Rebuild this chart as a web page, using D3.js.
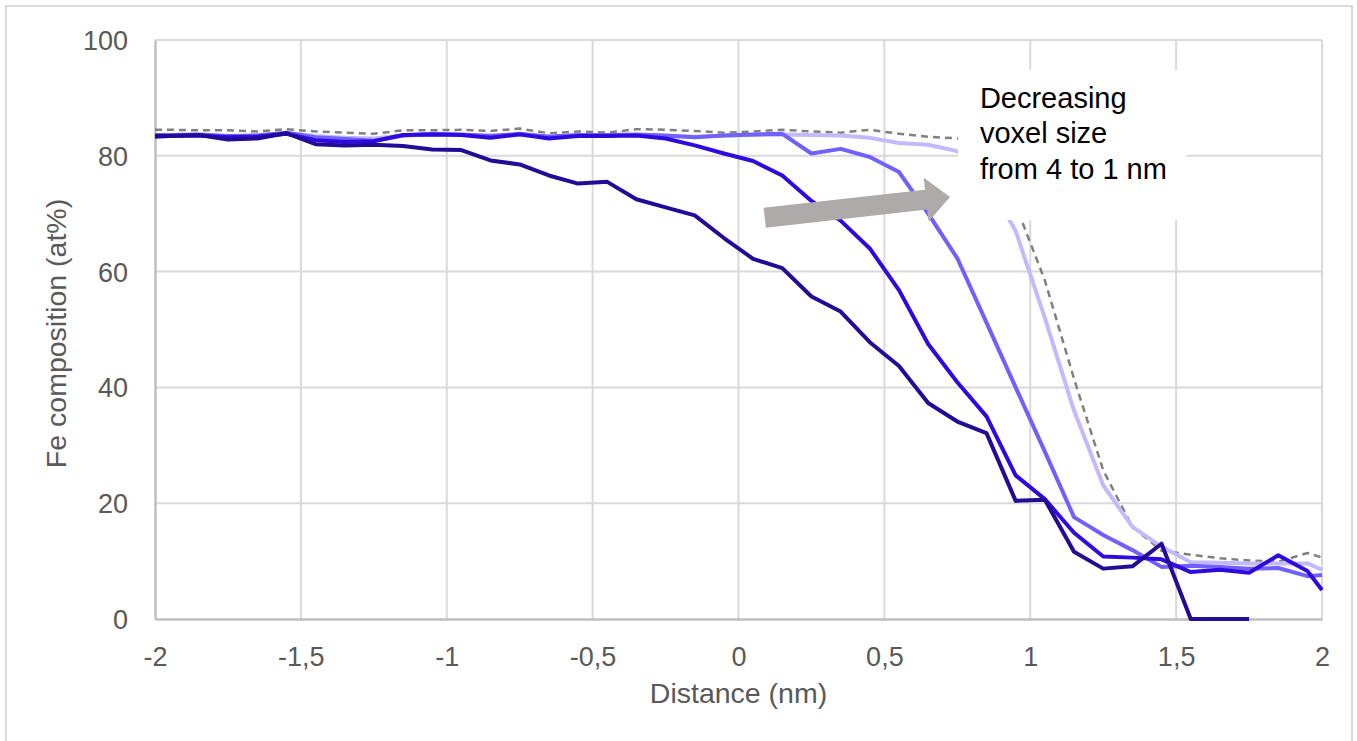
<!DOCTYPE html>
<html>
<head>
<meta charset="utf-8">
<script src="https://cdn.jsdelivr.net/npm/d3@7"></script>
<style>
  body { margin: 0; background: #fff; }
  text { font-family: "Liberation Sans", Arial, sans-serif; }
</style>
</head>
<body>
<div id="chart"></div>
<script>
// distance (nm) of each profile point
var distance = [-2, -1.95, -1.85, -1.75, -1.65, -1.55, -1.45, -1.35, -1.25, -1.15, -1.05,
  -0.95, -0.85, -0.75, -0.65, -0.55, -0.45, -0.35, -0.25, -0.15, -0.05,
  0.05, 0.15, 0.25, 0.35, 0.45, 0.55, 0.65, 0.75, 0.85, 0.95,
  1.05, 1.15, 1.25, 1.35, 1.45, 1.55, 1.65, 1.75, 1.85, 1.95, 2];

// Fe composition (at%), one array per voxel size
var voxel4 = [83.4, 83.4, 83.6, 82.8, 83.0, 83.9, 82.0, 81.8, 81.9, 81.7, 81.1,
  81.0, 79.2, 78.5, 76.6, 75.2, 75.5, 72.5, 71.1, 69.7, 65.8,
  62.2, 60.6, 55.7, 53.1, 47.8, 43.7, 37.3, 34.1, 32.1, 20.4,
  20.6, 11.6, 8.7, 9.1, 13.0, 0, 0, 0, null, null, null];

var voxel3 = [83.3, 83.4, 83.5, 83.2, 83.3, 83.8, 82.7, 82.4, 82.5, 83.6, 83.7,
  83.6, 83.1, 83.7, 83.0, 83.4, 83.4, 83.5, 83.0, 81.8, 80.4,
  79.1, 76.6, 72.2, 68.8, 64.0, 56.8, 47.5, 40.9, 35.0, 24.8,
  20.7, 14.9, 10.8, 10.6, 10.3, 8.1, 8.5, 8.0, 11.0, 8.3, 5.0];

var voxel2 = [83.6, 83.6, 83.7, 83.4, 83.5, 84.0, 83.2, 82.9, 82.6, 83.5, 83.8,
  83.7, 83.4, 83.8, 83.3, 83.6, 83.6, 83.7, 83.5, 83.2, 83.5,
  83.7, 83.8, 80.4, 81.2, 79.8, 77.2, 70.0, 62.3, 51.2, 40.0,
  28.9, 17.6, 14.5, 11.9, 9.0, 9.2, 9.0, 8.7, 8.8, 7.4, 7.6];

var voxel1 = [83.5, 83.5, 83.6, 83.3, 83.5, 83.9, 83.4, 83.1, 83.0, 83.5, 83.7,
  83.6, 83.5, 83.6, 83.4, 83.5, 83.6, 83.6, 83.4, 83.3, 83.5,
  83.6, 83.7, 83.6, 83.5, 83.1, 82.2, 81.9, 80.8, 76.0, 67.0,
  52.0, 36.0, 23.1, 15.9, 12.5, 9.8, 9.7, 9.6, 9.6, 9.6, 8.5];

var reference = [84.5, 84.5, 84.4, 84.4, 84.2, 84.6, 84.2, 84.0, 83.8, 84.4, 84.4,
  84.5, 84.3, 84.7, 83.9, 84.2, 84.0, 84.6, 84.5, 84.3, 84.0,
  84.2, 84.5, 84.2, 84.0, 84.5, 83.8, 83.3, 83.0, 82.7, 71.5,
  58.5, 41.5, 25.7, 15.9, 11.8, 11.1, 10.5, 10.1, 9.9, 11.4, 10.6];

var xTicks = [-2, -1.5, -1, -0.5, 0, 0.5, 1, 1.5, 2];
var yTicks = [0, 20, 40, 60, 80, 100];

// annotation, in data units
var arrowFrom = [0.09, 69.3],
  arrowTo = [0.725, 72.9];
var noteBox = { x0: 0.752, x1: 1.535, y0: 94.8, y1: 68.9 };
var noteLines = ["Decreasing", "voxel size", "from 4 to 1 nm"];

var width = 1357,
  height = 741,
  margin = { top: 40, right: 35, bottom: 122, left: 155 },
  innerW = width - margin.left - margin.right,
  innerH = height - margin.top - margin.bottom;

var svg = d3.select('#chart')
  .append('svg')
  .attr('width', width)
  .attr('height', height);

// outer chart border
svg.append('rect')
  .attr('x', 6).attr('y', 6)
  .attr('width', 1346).attr('height', 780)
  .attr('fill', 'none')
  .attr('stroke', '#d9d9d9')
  .attr('stroke-width', 2);

var g = svg.append('g')
  .attr('transform', 'translate(' + margin.left + ',' + margin.top + ')');

var x = d3.scaleLinear().domain([-2, 2]).range([0, innerW]);
var y = d3.scaleLinear().domain([0, 100]).range([innerH, 0]);

// gridlines
g.selectAll('.hgrid')
  .data(yTicks.filter(function(d) { return d > 0; }))
  .enter().append('line')
  .attr('x1', 0).attr('x2', innerW)
  .attr('y1', function(d) { return y(d); })
  .attr('y2', function(d) { return y(d); })
  .attr('stroke', '#d9d9d9')
  .attr('stroke-width', 2);

g.selectAll('.vgrid')
  .data(xTicks.filter(function(d) { return d > -2; }))
  .enter().append('line')
  .attr('y1', 0).attr('y2', innerH)
  .attr('x1', function(d) { return x(d); })
  .attr('x2', function(d) { return x(d); })
  .attr('stroke', '#d9d9d9')
  .attr('stroke-width', 2);

// axes
var xAxis = g.append('g')
  .attr('transform', 'translate(0,' + innerH + ')')
  .call(d3.axisBottom(x).tickValues(xTicks).tickSize(0).tickPadding(28)
    .tickFormat(function(d) { return String(d).replace('.', ','); }));

var yAxis = g.append('g')
  .call(d3.axisLeft(y).tickValues(yTicks).tickSize(0).tickPadding(27));

[xAxis, yAxis].forEach(function(a) {
  a.select('.domain').attr('stroke', '#bfbfbf').attr('stroke-width', 2.5);
  a.selectAll('text')
    .attr('fill', '#595959')
    .style('font-size', '27px')
    .style('font-family', '"Liberation Sans", Arial, sans-serif');
});
yAxis.selectAll('text').attr('dy', '0.35em');

// axis titles
svg.append('text')
  .attr('x', margin.left + x(0))
  .attr('y', 703)
  .attr('text-anchor', 'middle')
  .attr('fill', '#595959')
  .style('font-size', '28.5px')
  .text('Distance (nm)');

svg.append('text')
  .attr('transform', 'translate(66,' + (margin.top + innerH / 2 + 4) + ') rotate(-90)')
  .attr('text-anchor', 'middle')
  .attr('fill', '#595959')
  .style('font-size', '28.5px')
  .text('Fe composition (at%)');

// profile lines
var series = [
  { name: 'reference', values: reference, colour: '#808080', dash: '7,5', w: 2.5 },
  { name: '1 nm', values: voxel1, colour: '#c2baff', dash: null, w: 4 },
  { name: '2 nm', values: voxel2, colour: '#7060ff', dash: null, w: 4 },
  { name: '3 nm', values: voxel3, colour: '#2f0ae0', dash: null, w: 4 },
  { name: '4 nm', values: voxel4, colour: '#230b98', dash: null, w: 4 }
];

var line = d3.line()
  .defined(function(d) { return d[1] !== null; })
  .x(function(d) { return x(d[0]); })
  .y(function(d) { return y(d[1]); });

g.selectAll('.profile')
  .data(series)
  .enter().append('path')
  .attr('class', 'profile')
  .attr('fill', 'none')
  .attr('stroke', function(d) { return d.colour; })
  .attr('stroke-width', function(d) { return d.w; })
  .attr('stroke-dasharray', function(d) { return d.dash; })
  .attr('stroke-linejoin', 'round')
  .attr('d', function(d) {
    return line(distance.map(function(v, i) { return [v, d.values[i]]; }));
  });

// arrow
var ax0 = x(arrowFrom[0]), ay0 = y(arrowFrom[1]),
  ax1 = x(arrowTo[0]), ay1 = y(arrowTo[1]);
var len = Math.sqrt((ax1 - ax0) * (ax1 - ax0) + (ay1 - ay0) * (ay1 - ay0)),
  ang = Math.atan2(ay1 - ay0, ax1 - ax0) * 180 / Math.PI,
  head = 24, shaft = 10, headW = 22;

g.append('path')
  .attr('transform', 'translate(' + ax0 + ',' + ay0 + ') rotate(' + ang + ')')
  .attr('d', 'M0,' + (-shaft) + 'L' + (len - head) + ',' + (-shaft) +
    'L' + (len - head) + ',' + (-headW) + 'L' + len + ',0' +
    'L' + (len - head) + ',' + headW + 'L' + (len - head) + ',' + shaft +
    'L0,' + shaft + 'Z')
  .attr('fill', '#aeaaaa');

// text box
g.append('rect')
  .attr('x', x(noteBox.x0))
  .attr('y', y(noteBox.y0))
  .attr('width', x(noteBox.x1) - x(noteBox.x0))
  .attr('height', y(noteBox.y1) - y(noteBox.y0))
  .attr('fill', '#fff');

g.append('text')
  .attr('x', x(noteBox.x0) + 22)
  .attr('y', y(noteBox.y0) + 38)
  .attr('fill', '#000')
  .style('font-size', '29px')
  .selectAll('tspan')
  .data(noteLines)
  .enter().append('tspan')
  .attr('x', x(noteBox.x0) + 22)
  .attr('dy', function(d, i) { return i === 0 ? 0 : 35.3; })
  .text(function(d) { return d; });
</script>
</body>
</html>
